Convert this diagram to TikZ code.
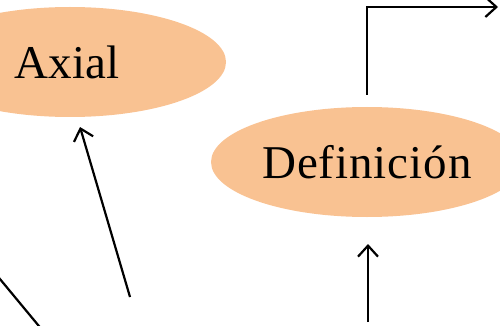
\documentclass[tikz,border=0pt]{standalone}
\usepackage{fontspec}
\setmainfont{Liberation Serif}
\usetikzlibrary{shapes.geometric,arrows.meta}
\definecolor{peach}{RGB}{249,194,146}
\tikzset{
  bubble/.style={ellipse, fill=peach, draw=none, inner sep=0pt,
    minimum width=312pt, minimum height=110pt,
    font=\fontsize{47}{56}\selectfont},
  conn/.style={line width=2.2pt, -{Straight Barb[length=11pt,width=20pt,line width=2.2pt]}},
  plain/.style={line width=2.2pt}
}
\begin{document}
\begin{tikzpicture}[x=1pt,y=-1pt]
\useasboundingbox (0,0) rectangle (500,326);
\clip (0,0) rectangle (500,326);
\node[bubble] (axial) at (70,62) {\hspace*{-6pt}Axial};
\node[bubble] (def) at (367,162) {\addfontfeature{LetterSpace=2}Definición};
\coordinate (a0) at (130,297);
\coordinate (a1) at (80,127);
\coordinate (d0) at (368,322);
\coordinate (d1) at (368,244);
\coordinate (u0) at (367,95);
\coordinate (u1) at (367,7);
\coordinate (u2) at (498,7);
\coordinate (l0) at (-10,267);
\coordinate (l1) at (48,337);
\draw[conn] (a0) -- (a1);
\draw[conn] (d0) -- (d1);
\draw[conn] (u0) -- (u1) -- (u2);
\draw[plain] (l0) -- (l1);
\end{tikzpicture}
\end{document}
